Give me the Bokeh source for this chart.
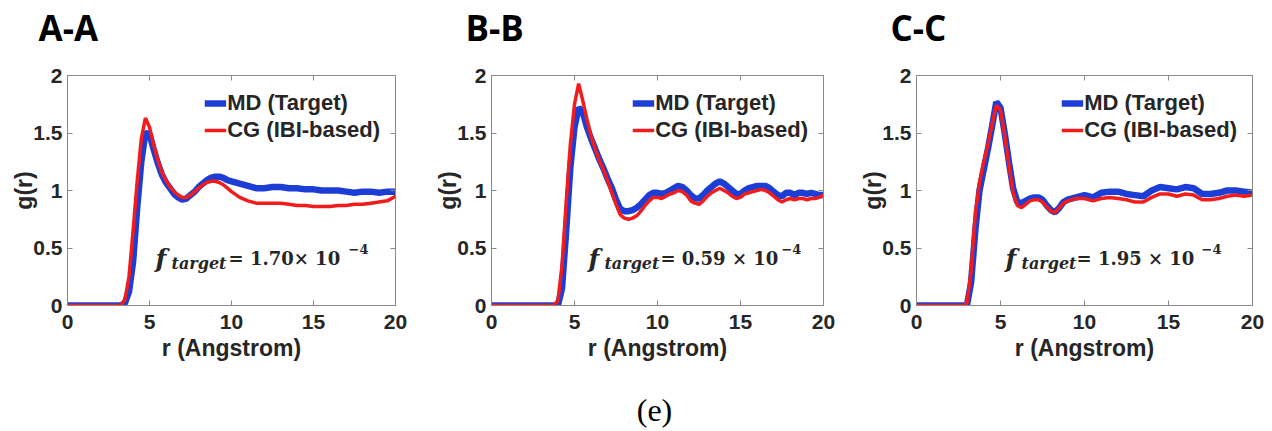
from bokeh.plotting import figure
from bokeh.models import FixedTicker, LinearAxis, Label, Legend, LegendItem, Range1d
from bokeh.layouts import row, column
from bokeh.embed import file_html
from bokeh.resources import INLINE

# ---------------- data ----------------
x_ticks = [0, 5, 10, 15, 20]
x_tick_labels = ["0", "5", "10", "15", "20"]
y_ticks = [0, 0.5, 1, 1.5, 2]
y_tick_labels = ["0", "0.5", "1", "1.5", "2"]
panel_titles = ["A-A", "B-B", "C-C"]
series_names = ["MD (Target)", "CG (IBI-based)"]
f_values = ["= 1.70\u00d7 10", "= 0.59 \u00d7 10", "= 1.95 \u00d7 10"]
f_exponent = "\u22124"
caption = "(e)"

rA = [0, 1, 2, 3, 3.25, 3.5, 3.75, 4.0, 4.25, 4.5, 4.75, 5.0, 5.25, 5.5, 5.75, 6.0,
      6.25, 6.5, 6.75, 7.0, 7.25, 7.5, 7.75, 8.0, 8.25, 8.5, 8.75, 9.0, 9.25, 9.5,
      9.75, 10.0, 10.5, 11, 11.5, 12, 12.5, 13, 13.5, 14, 14.5, 15, 15.5, 16, 16.5,
      17, 17.5, 18, 18.5, 19, 19.5, 20]
gA_md = [0, 0, 0, 0, 0, 0.02, 0.12, 0.38, 0.85, 1.25, 1.50, 1.49, 1.36, 1.24, 1.14, 1.07,
         1.02, 0.97, 0.94, 0.92, 0.93, 0.96, 0.99, 1.03, 1.06, 1.09, 1.11, 1.12, 1.12, 1.11,
         1.09, 1.08, 1.06, 1.04, 1.02, 1.02, 1.03, 1.03, 1.02, 1.02, 1.01, 1.01, 1.00, 1.00, 1.00,
         0.99, 0.98, 0.99, 0.99, 0.98, 0.99, 0.99]
gA_cg = [0, 0, 0, 0, 0, 0.05, 0.25, 0.65, 1.08, 1.45, 1.63, 1.55, 1.40, 1.27, 1.16, 1.09,
         1.03, 0.99, 0.96, 0.94, 0.94, 0.96, 0.99, 1.02, 1.05, 1.07, 1.08, 1.08, 1.07, 1.05,
         1.02, 0.99, 0.94, 0.91, 0.89, 0.89, 0.89, 0.89, 0.88, 0.87, 0.87, 0.86, 0.86, 0.86, 0.87,
         0.87, 0.88, 0.88, 0.89, 0.90, 0.91, 0.95]

rB = [0, 1, 2, 3, 3.75, 4.0, 4.25, 4.5, 4.75, 5.0, 5.25, 5.5, 5.75, 6.0, 6.25, 6.5, 6.75,
      7.0, 7.25, 7.5, 7.75, 8.0, 8.25, 8.5, 8.75, 9.0, 9.25, 9.5, 9.75, 10.0, 10.25, 10.5,
      10.75, 11.0, 11.25, 11.5, 11.75, 12.0, 12.25, 12.5, 12.75, 13.0, 13.25, 13.5, 13.75,
      14.0, 14.25, 14.5, 14.75, 15.0, 15.25, 15.5, 15.75, 16.0, 16.25, 16.5, 16.75, 17.0,
      17.25, 17.5, 17.75, 18.0, 18.25, 18.5, 18.75, 19.0, 19.25, 19.5, 19.75, 20.0]
gB_md = [0, 0, 0, 0, 0, 0.0, 0.15, 0.65, 1.20, 1.55, 1.72, 1.68, 1.55, 1.45, 1.36, 1.27, 1.19,
         1.10, 1.02, 0.92, 0.84, 0.82, 0.82, 0.83, 0.85, 0.88, 0.92, 0.96, 0.98, 0.98, 0.97, 0.98,
         1.00, 1.02, 1.04, 1.03, 1.00, 0.96, 0.93, 0.93, 0.96, 1.00, 1.03, 1.06, 1.08,
         1.06, 1.03, 1.00, 0.97, 0.97, 1.00, 1.02, 1.03, 1.04, 1.04, 1.04, 1.02, 0.99,
         0.96, 0.95, 0.98, 0.98, 0.96, 0.98, 0.98, 0.97, 0.98, 0.97, 0.96, 0.96]
gB_cg = [0, 0, 0, 0, 0, 0.04, 0.35, 0.90, 1.40, 1.75, 1.93, 1.78, 1.62, 1.47, 1.36, 1.26, 1.18,
         1.08, 0.98, 0.88, 0.79, 0.76, 0.75, 0.76, 0.78, 0.82, 0.87, 0.91, 0.94, 0.94, 0.93, 0.95,
         0.97, 0.98, 1.00, 0.99, 0.96, 0.91, 0.89, 0.88, 0.91, 0.95, 0.98, 1.00, 1.02,
         1.00, 0.98, 0.95, 0.93, 0.94, 0.97, 0.98, 0.99, 1.00, 1.01, 1.00, 0.98, 0.95,
         0.92, 0.90, 0.92, 0.93, 0.92, 0.93, 0.93, 0.92, 0.93, 0.93, 0.94, 0.96]

rC = [0, 1, 2, 2.75, 3.0, 3.25, 3.5, 3.75, 4.0, 4.25, 4.5, 4.75, 5.0, 5.25, 5.5, 5.75,
      6.0, 6.25, 6.5, 6.75, 7.0, 7.25, 7.5, 7.75, 8.0, 8.25, 8.5, 8.75, 9.0, 9.5, 10.0,
      10.5, 11.0, 11.5, 12.0, 12.5, 13.0, 13.5, 14.0, 14.5, 15.0, 15.5, 16.0, 16.5, 17.0,
      17.5, 18.0, 18.5, 19.0, 19.5, 20.0]
gC_md = [0, 0, 0, 0, 0.0, 0.20, 0.65, 1.00, 1.18, 1.36, 1.56, 1.77, 1.72, 1.50, 1.25, 1.02,
         0.90, 0.89, 0.91, 0.93, 0.94, 0.94, 0.92, 0.87, 0.83, 0.81, 0.85, 0.90, 0.92, 0.94, 0.96,
         0.94, 0.98, 0.99, 0.99, 0.97, 0.96, 0.95, 1.00, 1.03, 1.02, 1.01, 1.03, 1.02, 0.97,
         0.97, 0.98, 1.00, 1.00, 0.99, 0.98]
gC_cg = [0, 0, 0, 0, 0.02, 0.30, 0.80, 1.07, 1.25, 1.40, 1.58, 1.74, 1.70, 1.48, 1.22, 0.98,
         0.87, 0.85, 0.88, 0.91, 0.92, 0.92, 0.90, 0.86, 0.82, 0.81, 0.85, 0.89, 0.91, 0.93, 0.93,
         0.91, 0.93, 0.94, 0.93, 0.92, 0.90, 0.90, 0.94, 0.97, 0.97, 0.95, 0.97, 0.96, 0.92,
         0.92, 0.93, 0.95, 0.96, 0.95, 0.96]

# ---------------- styling ----------------
BLUE = "#1c3ed6"
RED = "#f21c1c"
GRAY = "#8a8a8a"
TXT = "#262626"
SANS = "Liberation Sans"
SERIF = "DejaVu Serif"
W = 1272
HEAD_H = 60
FOOT_H = 60

panels = [
    dict(r=(rA, rA), g=(gA_md, gA_cg), fw=328, bl=67, br=29, fx=5.37, eq_off=73, exp_off=193, tx=38),
    dict(r=(rB, rB), g=(gB_md, gB_cg), fw=332, bl=67, br=25, fx=5.84, eq_off=72, exp_off=193, tx=465),
    dict(r=(rC, rC), g=(gC_md, gC_cg), fw=336, bl=68, br=20, fx=5.30, eq_off=71, exp_off=196, tx=890),
]


def blank(h):
    f = figure(frame_width=W, frame_height=h, min_border=0,
               x_range=Range1d(0, W), y_range=Range1d(0, h),
               x_axis_location=None, y_axis_location=None,
               output_backend="svg", toolbar_location=None)
    f.xgrid.visible = False
    f.ygrid.visible = False
    f.outline_line_color = None
    f.background_fill_color = "white"
    f.border_fill_color = "white"
    return f


def make_panel(i, d):
    p = figure(frame_width=d["fw"], frame_height=230,
               min_border_left=d["bl"], min_border_right=d["br"],
               min_border_top=75 - HEAD_H, min_border_bottom=66,
               x_range=Range1d(0, 20), y_range=Range1d(0, 2),
               output_backend="svg", toolbar_location=None)
    p.xgrid.visible = False
    p.ygrid.visible = False
    p.outline_line_color = GRAY
    p.outline_line_width = 1
    p.background_fill_color = "white"
    p.border_fill_color = "white"

    for ax, ticks, labels in ((p.xaxis[0], x_ticks, x_tick_labels),
                              (p.yaxis[0], y_ticks, y_tick_labels)):
        ax.ticker = FixedTicker(ticks=ticks)
        ax.major_label_overrides = dict(zip(ticks, labels))
        ax.major_tick_in = 5
        ax.major_tick_out = 0
        ax.minor_tick_line_color = None
        ax.axis_line_color = GRAY
        ax.major_tick_line_color = GRAY
        ax.major_label_text_font = SANS
        ax.major_label_text_font_style = "bold"
        ax.major_label_text_font_size = "21px"
        ax.major_label_text_color = TXT
        ax.axis_label_text_font = SANS
        ax.axis_label_text_font_style = "bold"
        ax.axis_label_text_font_size = "23px"
        ax.axis_label_text_color = TXT
    p.xaxis.axis_label = "r (Angstrom)"
    p.yaxis.axis_label = "g(r)"
    p.xaxis.major_label_standoff = 9
    p.xaxis.axis_label_standoff = 3
    p.yaxis.major_label_standoff = 5
    p.yaxis.axis_label_standoff = -7

    for place, ticks in (("above", x_ticks), ("right", y_ticks)):
        mx = LinearAxis(ticker=FixedTicker(ticks=ticks),
                        major_label_overrides={t: "" for t in ticks},
                        major_tick_in=5, major_tick_out=0,
                        minor_tick_line_color=None,
                        axis_line_color=GRAY, major_tick_line_color=GRAY,
                        major_label_standoff=0)
        p.add_layout(mx, place)

    b = p.line(d["r"][0], d["g"][0], line_color=BLUE, line_width=6.5)
    rr = p.line(d["r"][1], d["g"][1], line_color=RED, line_width=3.5)

    leg = Legend(items=[LegendItem(label=series_names[0], renderers=[b]),
                        LegendItem(label=series_names[1], renderers=[rr])],
                 location="top_right", margin=15, padding=0, spacing=1,
                 glyph_width=22, glyph_height=20, label_height=20, label_standoff=1,
                 label_text_font=SANS, label_text_font_style="bold",
                 label_text_font_size="22px", label_text_color=TXT,
                 background_fill_alpha=0, border_line_alpha=0)
    p.add_layout(leg)

    # f_target annotation
    fx, fy = d["fx"], 0.41
    p.add_layout(Label(x=fx, y=fy, text="f", text_font=SERIF, text_font_style="bold italic",
                       text_font_size="25px", text_color=TXT, text_baseline="alphabetic"))
    p.add_layout(Label(x=fx, y=fy, x_offset=16, y_offset=-5, text="target", text_font=SERIF,
                       text_font_style="bold italic", text_font_size="16px", text_color=TXT,
                       text_baseline="alphabetic"))
    p.add_layout(Label(x=fx, y=fy, x_offset=d["eq_off"], text=f_values[i], text_font=SERIF,
                       text_font_style="bold", text_font_size="18px", text_color=TXT,
                       text_baseline="alphabetic"))
    p.add_layout(Label(x=fx, y=fy, x_offset=d["exp_off"], y_offset=9, text=f_exponent,
                       text_font=SERIF, text_font_style="bold", text_font_size="13px",
                       text_color=TXT, text_baseline="alphabetic"))
    return p


head = blank(HEAD_H)
for i, d in enumerate(panels):
    head.add_layout(Label(x=d["tx"], y=33, x_units="screen", y_units="screen",
                          text=panel_titles[i], text_font="Open Sans", text_font_style="bold",
                          text_font_size="35px", text_color="black", text_baseline="alphabetic"))

foot = blank(FOOT_H)
foot.add_layout(Label(x=654, y=22, x_units="screen", y_units="screen", text=caption,
                      text_font="Liberation Serif", text_font_size="32px",
                      text_color="black", text_align="center", text_baseline="alphabetic"))

figs = [make_panel(i, d) for i, d in enumerate(panels)]
layout = column(head, row(*figs), foot)
open("out.html", "w").write(file_html(layout, INLINE))
